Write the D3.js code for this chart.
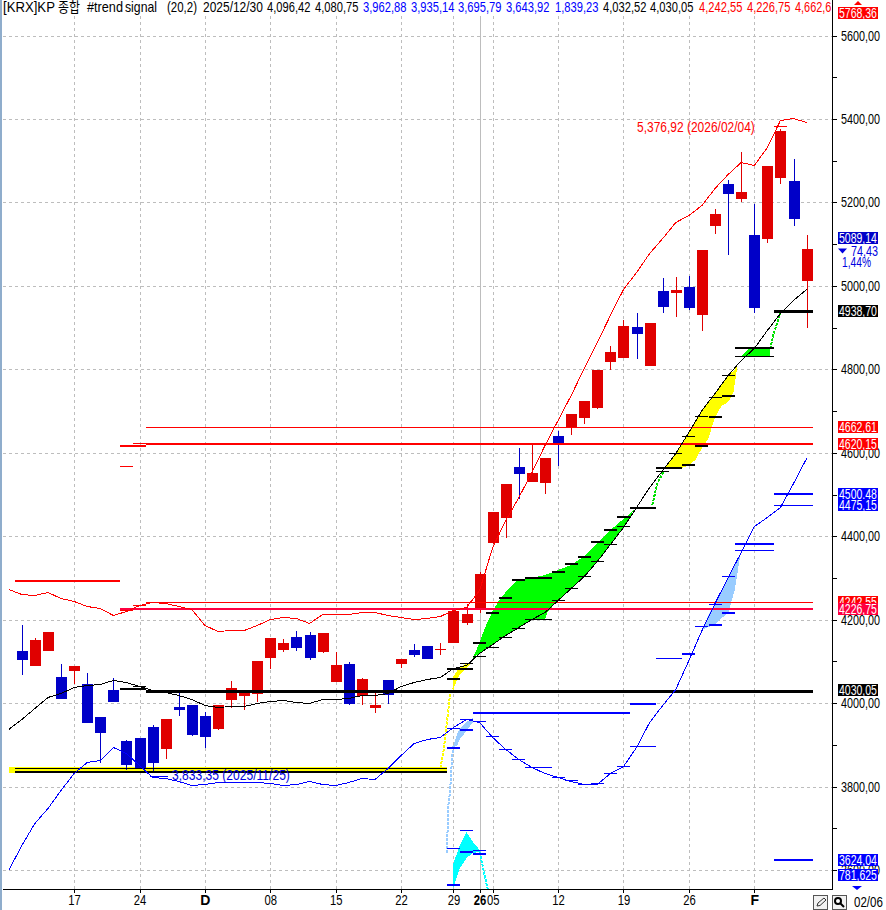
<!DOCTYPE html>
<html><head><meta charset="utf-8">
<style>html,body{margin:0;padding:0;background:#fff}svg{display:block}text{font-family:'Liberation Sans','Noto Sans CJK KR',sans-serif}</style>
<script src="https://cdn.jsdelivr.net/npm/d3@7/dist/d3.min.js"></script>
</head><body><div id="c"></div>
<script>
// ---- candles (index 0..60) ----
const openP =[4125,4089,4125,4062,4077,4046,3966,4031,3909,3916,3942,3890,3990,3995,3969,3938,4007,4017,4022,4108,4127,4158,4163,4122,4050,4094,4017,3988,4055,4094,4127,4137,4130,4144,4192,4223,4384,4444,4565,4529,4527,4640,4661,4683,4707,4818,4827,4901,4808,4988,4983,4997,4930,5144,5244,5208,5122,5112,5259,5251,5012];
const highP =[4187,4156,4170,4094,4089,4072,3966,4060,3911,3916,3947,3962,4024,3995,3978,3995,4053,4031,4101,4156,4154,4173,4170,4168,4122,4098,4060,4029,4055,4106,4142,4137,4144,4221,4238,4314,4458,4525,4611,4621,4587,4652,4693,4724,4798,4856,4918,4935,4911,5019,5021,5024,5086,5184,5254,5321,5196,5287,5376.92,5304,5122];
const lowP  =[4067,4089,4125,4010,4046,3952,3856,4002,3839,3842,3833.35,3866,3969,3921,3892,3935,3988,3983,4002,4082,4122,4125,4103,4120,4050,3995,3995,3976,3998,4084,4110,4106,4115,4144,4187,4216,4382,4396,4489,4529,4501,4568,4642,4669,4705,4798,4827,4825,4808,4935,4925,4943,4892,5124,5074,5201,4935,5103,5244,5143,4899];
const closeP=[4103,4151,4170,4010,4089,3952,3928,4002,3851,3842,3856,3962,3983,3923,3918,3995,4036,4031,4101,4156,4144,4132,4108,4168,4091,3998,4058,3995,4019,4106,4115,4106,4130,4221,4214,4310,4458,4525,4549,4551,4587,4623,4693,4724,4798,4842,4904,4885,4911,4949,4990,4948,5086,5172,5220,5225,4947,5287,5371,5160,5089.14];

// ---- band lines (index -1..60) ----
const upperBand=[4274,4262,4259,4266,4252,4245,4233,4228,4211,4221,4235,4242,4240,4233,4226,4187,4173,4175,4175,4187,4202,4206,4204,4192,4214,4214,4214,4218,4218,4211,4206,4202,4204,4209,4223,4230,4271,4374,4439,4493,4553,4618,4678,4739,4803,4866,4930,4993,5033,5079,5115,5153,5170,5194,5235,5268,5297,5290,5333,5398,5402,5393];
const midBand  =[3938,3962,3988,4014,4024,4038,4043,4046,4055,4050,4041,4031,4026,4019,4010,3995,3990,3993,3993,4000,4005,4007,4002,4000,4010,4010,4012,4019,4019,4024,4041,4050,4058,4062,4084,4091,4120,4142,4163,4182,4202,4218,4247,4276,4305,4341,4382,4422,4470,4518,4558,4599,4650,4703,4743,4786,4822,4851,4894,4935,4966,4993];
const lowerBand=[3600,3660,3713,3749,3792,3832,3859,3864,3895,3880,3852,3823,3820,3813,3804,3806,3811,3811,3811,3811,3809,3804,3806,3813,3806,3804,3811,3820,3818,3844,3876,3904,3914,3919,3943,3962,3955,3919,3890,3866,3847,3832,3823,3813,3806,3806,3832,3849,3895,3955,3995,4034,4103,4175,4240,4302,4362,4424,4446,4470,4527,4587];

// ---- step segments: [first bar, last bar, price] ----
const blackHeavy=[[10,60,4030.05],[58,60,4938.70]];
const blackThick=[[0,32,3836],[8,9,4034],[33,33,4058],[33,34,4080.75],[35,35,4144],[36,36,4216],[37,37,4252],[38,38,4295],[39,40,4300],[41,41,4314],[42,42,4333],[43,43,4350],[44,44,4386],[45,45,4415],[46,46,4446],[47,48,4468],[49,50,4564],[51,51,4571],[52,52,4616],[53,53,4686],[54,54,4736],[55,57,4851]];
const blackThin =[[0,32,3844],[9,9,4041],[34,34,4096.42],[35,35,4113],[36,36,4134],[37,37,4158],[38,38,4180],[39,40,4202],[41,41,4247],[42,42,4276],[43,43,4305],[44,44,4341],[45,45,4382],[46,46,4425],[49,49,4556],[50,50,4599],[51,51,4640],[52,52,4688],[53,53,4734],[54,54,4786],[55,57,4832]];
const blueThick =[[33,33,3892],[34,34,3935.14],[35,46,3976],[47,48,3998],[51,51,4118],[53,53,4187],[54,54,4216],[55,57,4381],[58,60,4500.48],[33,33,3564],[34,34,3643.92],[35,35,3638],[58,60,3624.04]];
const blueThin  =[[33,33,3940],[34,34,3962.88],[35,35,3957],[36,36,3921],[37,37,3890],[38,38,3866],[39,40,3847],[41,41,3823],[42,42,3816],[43,43,3806],[44,44,3809],[45,45,3832],[46,46,3849],[47,48,3897],[49,50,4108],[52,52,4185],[53,53,4238],[54,54,4305],[55,57,4367],[58,60,4475.15],[33,33,3653],[34,34,3695.79],[35,35,3648]];
const redThick  =[[0,7,4293],[8,9,4616],[10,60,4620.15]];
const redThin   =[[8,8,4568],[9,9,4623],[10,60,4662.61],[8,8,4223],[9,9,4235],[10,60,4242.55],[58,58,5383]];
const crimsonThick=[[8,60,4226.75]];

// ---- filled signal bands: bar positions, top price, bottom price ----
const greenIdx=[34.5,35,35.5,36,36.5,37,38,39,40,40.2,41,42,43,44,45,46,46.8];
const greenTop=[4108,4146,4187,4221,4247,4266,4298,4300,4307,4309,4319,4331,4353,4384,4415,4441,4463];
const greenBot=[4108,4120,4130,4142,4151,4163,4182,4202,4202,4218,4247,4276,4305,4341,4382,4422,4463];
const green2Idx=[55,55.6,57.2];
const green2Top=[4832,4849,4849];
const green2Bot=[4830,4832,4832];
const yellowIdx=[49,49.5,50,50.5,51,51.5,52,52.5,53,53.5,54,54.4,54.7];
const yellowTop=[4559,4578,4599,4621,4650,4676,4703,4724,4743,4765,4786,4796,4808];
const yellowBot=[4559,4564,4564,4564,4571,4583,4611,4635,4686,4712,4722,4743,4806];
const yellow2Idx=[33,33.5,34,34.3];
const yellow2Top=[4065,4087,4094,4096];
const yellow2Bot=[4036,4070,4084,4094];
const skyIdx=[33,33.3,33.5,34,34.5];
const skyTop=[3900,3928,3940,3955,3964];
const skyBot=[3892,3900,3914,3933,3955];
const sky2Idx=[52,52.5,53,53.5,54,54.5,54.9];
const sky2Top=[4175,4211,4240,4271,4302,4331,4353];
const sky2Bot=[4175,4182,4187,4204,4216,4271,4348];
const cyanIdx=[33,33.5,34,34.5,35];
const cyanTop=[3617,3660,3691,3667,3648];
const cyanBot=[3559,3605,3629,3641,3643];
const yellowBar=[0,32,3840];

// ---- dotted signal trails ----
const dotGreenAIdx=[48.2,48.6,49.05], dotGreenA=[4475,4527,4554];
const dotGreenBIdx=[57.2,57.5,58],   dotGreenB=[4849,4887,4935];
const dotYellowIdx=[32,32.25,32.5,32.75,33], dotYellow=[3844,3888,3952,4024,4036];
const dotSkyIdx=[32.5,32.6,32.75,32.9,33],   dotSky=[3641,3751,3792,3871,3900];
const dotCyanIdx=[35,35.25,35.6,35.8],       dotCyan=[3643,3607,3557,3528];

// ---- axes and labels ----
const xTickIdx=[4,9,14,19,24,29,33,35,36,41,46,51,56];
const xTickLabels=['17','24','D','08','15','22','29','26','05','12','19','26','F'];
const yMajor=[5600,5400,5200,5000,4800,4600,4400,4200,4000,3800,3600];
const yMinor=[5700,5500,5300,5100,4900,4700,4500,4300,4100,3900,3700];
const titleParts=['[KRX]KP','종합','#trend','signal','(20,2)','2025/12/30'];
const headerValues=['4,096,42','4,080,75','3,962,88','3,935,14','3,695,79','3,643,92','1,839,23','4,032,52','4,030,05','4,242,55','4,226,75','4,662,6'];
const headerColors=['#000','#000','#00f','#00f','#00f','#00f','#00f','#000','#000','#f00','#f00','#f00'];
const priceTags=[[5089.14,'#0000c8','5089,14'],[4938.70,'#000','4938,70'],[4662.61,'#f00','4662,61'],[4620.15,'#f00','4620,15'],[4500.48,'#00f','4500,48'],[4475.15,'#00f','4475,15'],[4242.55,'#f00','4242,55'],[4226.75,'#ff0040','4226,75'],[4030.05,'#000','4030,05'],[3624.04,'#00f','3624,04']];
const topTag='5768,36', volumeTag='781,625', changeValue='74,43', changePct='1,44%', lastDate='02/06';
const highNote='5,376,92 (2026/02/04)', lowNote='3,833,35 (2025/11/25)', lowPrice=3833.35, highPrice=5376.92;

// ---- layout ----
const W=886,H=910,L=3,R=832,B=889,T=16;
const x=d3.scaleLinear().domain([0,60]).range([21.8,806.6]);
const y=d3.scaleLinear().domain([3600,5400]).rangeRound([870,119]);
const svg=d3.select('#c').append('svg').attr('width',W).attr('height',H).attr('viewBox',`0 0 ${W} ${H}`);
svg.append('rect').attr('width',W).attr('height',H).attr('fill','#fff');
svg.append('rect').attr('x',0).attr('y',0).attr('width',2).attr('height',H).attr('fill','#8fadcc');
svg.append('defs').append('clipPath').attr('id','plot').append('rect').attr('x',L).attr('y',0).attr('width',R-L).attr('height',B);
const crisp=s=>s.attr('shape-rendering','crispEdges');
// narrow a text horizontally so that it takes exactly w pixels
function squeeze(node,w){
  const s=d3.select(node), x0=+s.attr('x')||0, y0=+s.attr('y')||0;
  const n=node.getComputedTextLength();
  s.attr('x',0).attr('y',s.attr('dy')?null:0).attr('transform',`translate(${x0},${s.attr('dy')?0:y0}) scale(${w/n},1)`);
}
const fs=14;
function put(txt,px,py,w,color,size){
  const t=svg.append('text').attr('x',px).attr('y',py).attr('font-size',size||fs).attr('fill',color).text(txt);
  squeeze(t.node(),w);
  return t;
}

// grid
const grid=crisp(svg.append('g').attr('stroke','#bdbdbd').attr('stroke-dasharray','3 3'));
grid.selectAll('.h').data(yMajor).join('line').attr('class','h').attr('x1',L).attr('x2',R).attr('y1',d=>y(d)+.5).attr('y2',d=>y(d)+.5);
grid.selectAll('.v').data(xTickIdx).join('line').attr('class','v').attr('x1',d=>Math.round(x(d))+.5).attr('x2',d=>Math.round(x(d))+.5).attr('y1',T).attr('y2',B);
crisp(svg.append('line')).attr('x1',Math.round(x(35))+.5).attr('x2',Math.round(x(35))+.5).attr('y1',T).attr('y2',B).attr('stroke','#bdbdbd').attr('stroke-width',1);

const plot=svg.append('g').attr('clip-path','url(#plot)');

// signal bands
function band(idx,top,bot,color){
  const a=d3.area().x((d,i)=>x(idx[i])).y0((d,i)=>y(bot[i])).y1((d,i)=>y(top[i]));
  crisp(plot.append('path')).attr('d',a(idx)).attr('fill',color);
}
band(greenIdx,greenTop,greenBot,'#00ff00');
band(green2Idx,green2Top,green2Bot,'#00ff00');
band(yellowIdx,yellowTop,yellowBot,'#ffff00');
band(yellow2Idx,yellow2Top,yellow2Bot,'#ffff00');
band(skyIdx,skyTop,skyBot,'#99ccff');
band(sky2Idx,sky2Top,sky2Bot,'#99ccff');
band(cyanIdx,cyanTop,cyanBot,'#00ffff');
crisp(plot.append('rect')).attr('x',x(-1)).attr('y',y(3848)).attr('width',x(yellowBar[1])+6.5-x(-1)).attr('height',y(yellowBar[2]-8)-y(3848)).attr('fill','#ffff00');

function trail(idx,vals,color){
  const l=d3.line().x((d,i)=>x(idx[i])).y((d,i)=>y(vals[i]));
  crisp(plot.append('path')).attr('d',l(idx)).attr('fill','none').attr('stroke',color).attr('stroke-width',2).attr('stroke-dasharray','3 1');
}
trail(dotGreenAIdx,dotGreenA,'#00e000');
trail(dotGreenBIdx,dotGreenB,'#00e000');
trail(dotYellowIdx,dotYellow,'#ffff00');
trail(dotSkyIdx,dotSky,'#99ccff');
trail(dotCyanIdx,dotCyan,'#00ffff');

// candles
const bars=d3.range(openP.length);
const upCol='#e00000',dnCol='#0000c8';
const cg=crisp(plot.append('g'));
cg.selectAll('.w').data(bars).join('rect').attr('class','w').attr('x',i=>Math.round(x(i))).attr('width',1)
  .attr('y',i=>y(highP[i])).attr('height',i=>Math.max(1,y(lowP[i])-y(highP[i])))
  .attr('fill',i=>closeP[i]>=openP[i]?upCol:dnCol);
cg.selectAll('.b').data(bars).join('rect').attr('class','b').attr('x',i=>Math.round(x(i))-5).attr('width',11)
  .attr('y',i=>y(Math.max(openP[i],closeP[i]))).attr('height',i=>Math.max(1,Math.abs(y(closeP[i])-y(openP[i]))))
  .attr('fill',i=>closeP[i]>=openP[i]?upCol:dnCol);

// step segments
function steps(data,color,w){
  crisp(plot.append('g')).selectAll('line').data(data).join('line')
   .attr('x1',d=>x(d[0])-6.5).attr('x2',d=>Math.min(x(d[1])+6.5,814))
   .attr('y1',d=>y(d[2])+(w%2?.5:0)).attr('y2',d=>y(d[2])+(w%2?.5:0))
   .attr('stroke',color).attr('stroke-width',w);
}
steps(blackHeavy,'#000',3);
steps(blackThick,'#000',2);
steps(blackThin,'#000',1);
steps(blueThick,'#0000ff',2);
steps(blueThin,'#0000ff',1);
steps(redThin,'#ff0000',1);
steps(crimsonThick,'#ff0040',2);
steps(redThick,'#ff0000',2);

// bollinger lines
const lineIdx=d3.range(-1,61);
function bandLine(vals,color){
  const l=d3.line().x((d,i)=>x(d)).y((d,i)=>y(vals[i])+.5);
  crisp(plot.append('path')).attr('d',l(lineIdx)).attr('fill','none').attr('stroke',color).attr('stroke-width',1);
}
bandLine(upperBand,'#ff0000');
bandLine(midBand,'#000');
bandLine(lowerBand,'#0000ff');

// notes
put(highNote,637,y(highPrice)+3,118,'#f00');
put(lowNote,172,y(lowPrice)+7,118,'#0000e0');
crisp(svg.append('line')).attr('x1',x(10)-3).attr('x2',x(11)+2).attr('y1',y(lowPrice)+3.5).attr('y2',y(lowPrice)+3.5).attr('stroke','#0000ff');

// axes
const yAxis=d3.axisRight(y).tickValues(yMajor).tickSize(5).tickPadding(4).tickFormat(d=>d3.format('d')(d)+',00');
const yg=svg.append('g').attr('transform',`translate(${R},0)`).call(yAxis);
yg.select('.domain').remove();
yg.selectAll('text').attr('font-size',fs).attr('fill','#000').attr('font-family',"'Liberation Sans',sans-serif").each(function(){squeeze(this,39);});
yg.selectAll('.tick line').attr('stroke','#000').attr('shape-rendering','crispEdges');
const yAxisMinor=d3.axisRight(y).tickValues(yMinor.filter(d=>y(d)>0)).tickSize(5).tickFormat('');
const ymg=svg.append('g').attr('transform',`translate(${R},0)`).call(yAxisMinor);
ymg.select('.domain').remove();
ymg.selectAll('.tick line').attr('stroke','#000').attr('shape-rendering','crispEdges');

const xAxis=d3.axisBottom(x).tickValues(xTickIdx).tickSize(4).tickPadding(2).tickFormat((d,i)=>xTickLabels[i]);
const xg=svg.append('g').attr('transform',`translate(0,${B})`).call(xAxis);
xg.select('.domain').remove();
xg.selectAll('.tick line').attr('stroke','#000').attr('shape-rendering','crispEdges');
xg.selectAll('text').attr('font-size',fs).attr('fill','#000').attr('font-family',"'Liberation Sans',sans-serif")
  .attr('font-weight',(d,i)=>(xTickLabels[i]==='D'||xTickLabels[i]==='F'||(xTickLabels[i]==='26'&&i===7))?'bold':'normal')
  .attr('textLength',(d,i)=>xTickLabels[i].length===2?12.5:null).attr('lengthAdjust','spacingAndGlyphs');
crisp(svg.append('line')).attr('x1',L).attr('x2',R).attr('y1',B+.5).attr('y2',B+.5).attr('stroke','#000').attr('stroke-width',1);
crisp(svg.append('line')).attr('x1',R+.5).attr('x2',R+.5).attr('y1',0).attr('y2',B+1).attr('stroke','#000').attr('stroke-width',1);

// header
const titleX=[3,58,87,125,167,203], titleW=[52,22,36,32,30,60];
const headerX=[267,315,363,411,458,506,555,603,650,699,747,795];
titleParts.forEach((t,i)=>put(t,titleX[i],12,titleW[i],'#000'));
headerValues.forEach((t,i)=>put(t,headerX[i],12,i===11?36.5:43.5,headerColors[i]));

// price tags
const tagX=838,tagW=40,tagH=12;
function tag(cy,color,txt){
  crisp(svg.append('rect')).attr('x',tagX).attr('y',cy-tagH/2).attr('width',tagW).attr('height',tagH).attr('fill',color);
  put(txt,tagX+1,cy+5,38,'#fff');
}
priceTags.forEach(p=>{
  const cy=p[0]===5089.14?238:y(p[0])-(p[0]===4030.05?1:0);
  tag(cy,p[1],p[2]);
});
tag(12.5,'#f00',topTag);
tag(875,'#00f',volumeTag);
svg.append('path').attr('d','M854 5H862L858 1Z').attr('fill','#f00');
svg.append('path').attr('d','M852 886H862L857 890Z').attr('fill','#00f');
svg.append('path').attr('d','M838 248.5H847L842.5 253.5Z').attr('fill','#0000e0');
put(changeValue,851,255.5,27,'#0000e0');
put(changePct,842,267,29,'#0000e0');

// toolbar
const btn=svg.append('g');
[813,832].forEach(bx=>{crisp(btn.append('rect')).attr('x',bx+.5).attr('y',895.5).attr('width',14).attr('height',14).attr('fill','#f2f2f2').attr('stroke','#555');});
btn.append('path').attr('d','M817 906L818 903L824 898L826 900L820 905.5Z').attr('fill','none').attr('stroke','#333');
btn.append('circle').attr('cx',838).attr('cy',901).attr('r',3).attr('fill','#fff').attr('stroke','#000').attr('stroke-width',2);
btn.append('line').attr('x1',840).attr('y1',903).attr('x2',844).attr('y2',907).attr('stroke','#000').attr('stroke-width',2);
put(lastDate,854,907,29,'#000');
</script></body></html>
